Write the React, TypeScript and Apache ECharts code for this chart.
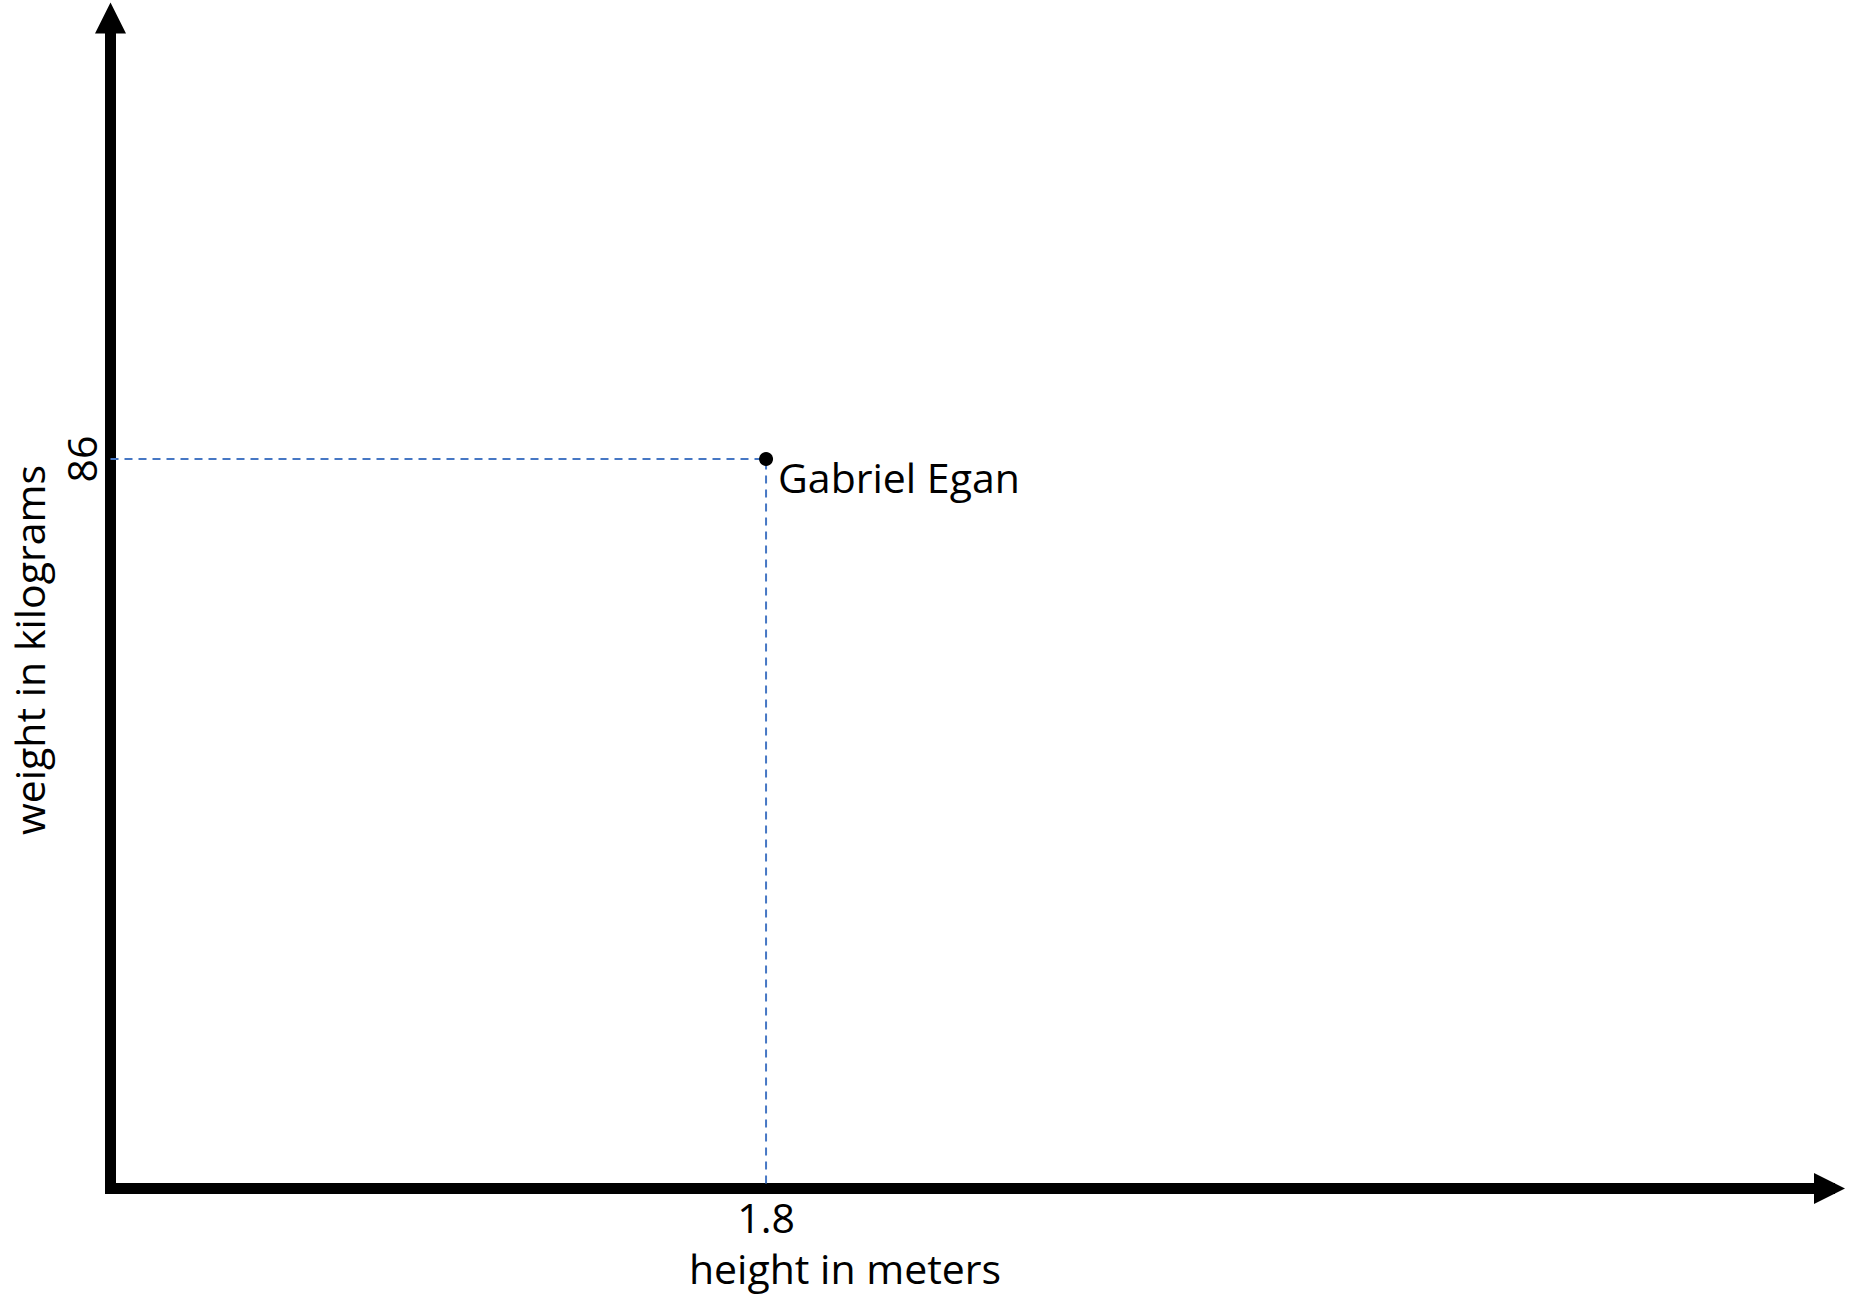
import React, { useEffect, useRef } from "react";
import * as echarts from "echarts";

const pointNames = ["Gabriel Egan"];
const heights = [1.8];
const weights = [86];
const xTickValues = [1.8];
const yTickValues = [86];
const xTitle = "height in meters";
const yTitle = "weight in kilograms";

const FONT = '"Open Sans", "Noto Sans", sans-serif';
const FS = 41;

export default function App() {
  const ref = useRef<HTMLDivElement>(null);
  useEffect(() => {
    if (!ref.current) return;
    const chart = echarts.init(ref.current, undefined, { renderer: "svg" });
    const points = heights.map((h, i) => ({ value: [h, weights[i]], name: pointNames[i] }));
    const guide: number[][] = [];
    heights.forEach((h, i) => {
      guide.push([0, weights[i]], [h, weights[i]], [h, 0]);
    });
    chart.setOption({
      animation: false,
      backgroundColor: "#ffffff",
      grid: { left: 110.5, top: 18, width: 1719, height: 1170.5, containLabel: false },
      xAxis: {
        type: "value",
        min: 0,
        max: 4.72,
        splitLine: { show: false },
        axisTick: { show: false },
        axisLine: {
          show: true,
          symbol: ["none", "triangle"],
          symbolSize: [31, 31],
          lineStyle: { color: "#000", width: 11, cap: "square" },
        },
        axisLabel: {
          customValues: xTickValues,
          formatter: (v: number) => String(v),
          color: "#000",
          fontFamily: FONT,
          fontSize: FS,
          margin: 8,
        },
      },
      yAxis: {
        type: "value",
        min: 0,
        max: 138,
        splitLine: { show: false },
        axisTick: { show: false },
        axisLine: {
          show: true,
          symbol: ["none", "triangle"],
          symbolSize: [31, 31],
          lineStyle: { color: "#000", width: 11, cap: "butt" },
        },
        axisLabel: {
          customValues: yTickValues,
          formatter: (v: number) => String(v),
          rotate: 90,
          color: "#000",
          fontFamily: FONT,
          fontSize: FS,
          margin: 9,
        },
      },
      graphic: [
        {
          type: "text",
          x: 845,
          y: 1268,
          style: { text: xTitle, font: `${FS}px ${FONT}`, fill: "#000", align: "center", verticalAlign: "middle" },
        },
        {
          type: "text",
          x: 29,
          y: 650,
          rotation: Math.PI / 2,
          style: { text: yTitle, font: `${FS}px ${FONT}`, fill: "#000", align: "center", verticalAlign: "middle" },
        },
      ],
      series: [
        {
          type: "line",
          data: guide,
          symbol: "none",
          silent: true,
          z: 1,
          lineStyle: { color: "#4677C4", width: 2, type: [8, 6] },
        },
        {
          type: "scatter",
          data: points,
          symbol: "circle",
          symbolSize: 14,
          itemStyle: { color: "#000", opacity: 1 },
          z: 3,
          label: {
            show: true,
            formatter: "{b}",
            position: "right",
            distance: 5,
            offset: [0, 18],
            color: "#000",
            opacity: 1,
            fontFamily: FONT,
            fontSize: FS,
          },
        },
      ],
    });
    return () => chart.dispose();
  }, []);
  return (
    <div
      ref={ref}
      style={{ position: "fixed", left: 0, top: 0, width: 1865, height: 1297, background: "#fff" }}
    />
  );
}
